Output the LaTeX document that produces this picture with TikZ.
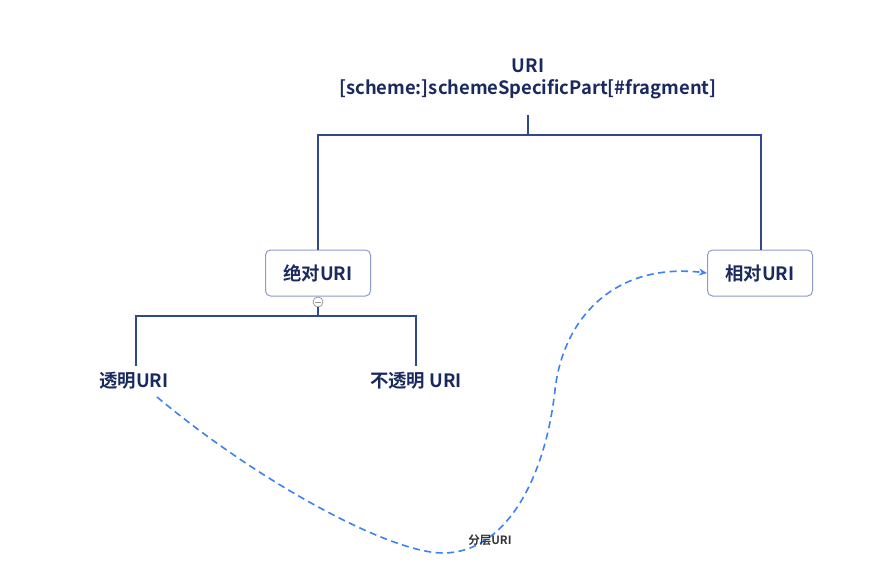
\documentclass[tikz,border=0pt]{standalone}
\usepackage{fontspec}
\setmainfont{Noto Sans CJK SC}[BoldFont={Noto Sans CJK SC Bold}]
\usetikzlibrary{arrows.meta}
\definecolor{navy}{HTML}{1B2A5E}
\definecolor{lineblue}{HTML}{2E4A8C}
\definecolor{boxborder}{HTML}{8D9ACC}
\definecolor{dashblue}{HTML}{3B82F6}
\definecolor{knob}{HTML}{9A9A9A}
\begin{document}
\begin{tikzpicture}[x=1pt,y=-1pt,
  lbl/.style={text=navy,font=\bfseries\fontsize{18.4}{22}\selectfont,inner sep=0pt,align=center},
  topicbox/.style={lbl,draw=boxborder,line width=1pt,rounded corners=5pt,minimum width=105pt,minimum height=46pt},
  tree/.style={draw=lineblue,line width=1.5pt},
  rel/.style={draw=dashblue,line width=1.6pt,dash pattern=on 7pt off 4.5pt,-{Stealth[length=8pt,width=7pt]}}]
\useasboundingbox (0,0) rectangle (874,580);
\node[lbl] (root) at (528,79) {URI\\[0pt][scheme:]schemeSpecificPart[\#fragment]};
\node[topicbox] (abs) at (318,273) {绝对URI};
\node[topicbox] (rel) at (760,273) {相对URI};
\node[lbl] (trans) at (134,381) {透明URI};
\node[lbl] (opaque) at (416,381) {不透明 URI};
\coordinate (rootb) at (528,115);
\coordinate (bar1) at (528,135);
\node[circle,draw=knob,fill=white,line width=0.8pt,minimum size=10pt,inner sep=0pt] (knob) at (318,302) {};
\draw[knob,line width=0.8pt] ([xshift=-3pt]knob.center) -- ([xshift=3pt]knob.center);
% root connectors
\draw[tree] (rootb) -- (bar1);
\draw[tree] (abs.north) -- (318,135) -- (761,135) -- (rel.north -| 761,0);
% abs connectors
\draw[tree] (knob.south) -- (318,316);
\draw[tree] (trans.north -| 136,0) ++(0,-6) -- (136,316) -- (416,316) -- ([yshift=6pt]opaque.north);
% relationship
\draw[rel] (157,397) .. controls (260,483) and (390,553) .. (443,553)
  .. controls (505,553) and (545,480) .. (555,390)
  .. controls (563,318) and (615,262) .. (rel.west);
\node[text=black!80,font=\bfseries\fontsize{11.5}{13}\selectfont,inner sep=1pt] (rlabel) at (490,540) {分层URI};
\end{tikzpicture}
\end{document}
